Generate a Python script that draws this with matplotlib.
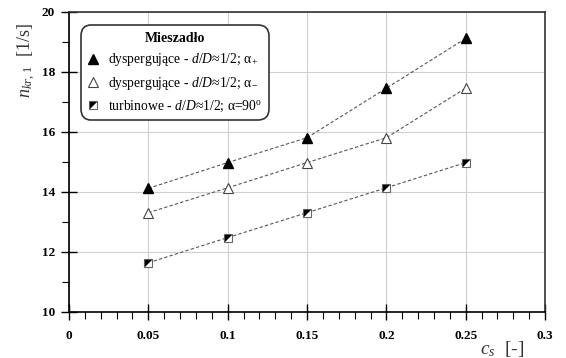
import matplotlib
matplotlib.use("Agg")
import matplotlib.pyplot as plt
from matplotlib.ticker import MultipleLocator, FixedLocator
from matplotlib.lines import Line2D
from matplotlib.legend_handler import HandlerTuple

plt.rcParams['font.family'] = ['Liberation Serif', 'DejaVu Serif']
plt.rcParams['mathtext.fontset'] = 'custom'
plt.rcParams['mathtext.rm'] = 'Liberation Serif'
plt.rcParams['mathtext.it'] = 'Liberation Serif:italic'
plt.rcParams['mathtext.bf'] = 'Liberation Serif:bold'

cs = [0.05, 0.10, 0.15, 0.20, 0.25]
disp_plus = [14.12, 14.98, 15.81, 17.46, 19.12]
disp_minus = [13.31, 14.14, 14.98, 15.81, 17.46]
turbine = [11.64, 12.48, 13.31, 14.14, 14.98]

labels = [
    r"dyspergujące - $d/D$≈1/2; α$_{+}$",
    r"dyspergujące - $d/D$≈1/2; α$_{-}$",
    r"turbinowe - $d/D$≈1/2; α=90$^{\rm o}$",
]
x_ticks = [0, 0.05, 0.1, 0.15, 0.2, 0.25, 0.3]
x_tick_labels = ["0", "0.05", "0.1", "0.15", "0.2", "0.25", "0.3"]
y_ticks = [10, 12, 14, 16, 18, 20]

fig = plt.figure(figsize=(5.66, 3.58), dpi=100)
ax = fig.add_axes([0.1219, 0.1285, 0.8411, 0.8380])

line_kw = dict(color='#555555', linestyle=(0, (3, 2)), linewidth=0.8)
ax.plot(cs, disp_plus, marker='^', markersize=6.5, markerfacecolor='black',
        markeredgecolor='black', label=labels[0], **line_kw)
ax.plot(cs, disp_minus, marker='^', markersize=6.5, markerfacecolor='white',
        markeredgecolor='#444444', markeredgewidth=0.8, label=labels[1], **line_kw)
ax.plot(cs, turbine, marker='s', markersize=6, markerfacecolor='white',
        markeredgecolor='#666666', markeredgewidth=0.8, label=labels[2], **line_kw)
tri = [(-1, -1), (-1, 1), (1, 1), (-1, -1)]
ax.plot(cs, turbine, linestyle='none', marker=tri, markersize=5.2,
        markerfacecolor='black', markeredgecolor='black', markeredgewidth=0)

ax.set_xlim(0, 0.3)
ax.set_ylim(10, 20)
ax.xaxis.set_major_locator(FixedLocator(x_ticks))
ax.set_xticklabels(x_tick_labels)
ax.xaxis.set_minor_locator(MultipleLocator(0.01))
ax.yaxis.set_major_locator(FixedLocator(y_ticks))
ax.yaxis.set_minor_locator(MultipleLocator(1))
ax.grid(True, which='major', color='#d0d0d0', linewidth=0.8)
ax.set_axisbelow(True)

for lab in ax.get_xticklabels() + ax.get_yticklabels():
    lab.set_fontweight('bold')
    lab.set_fontsize(9.5)
ax.tick_params(which='major', direction='inout', length=12, width=1.0, pad=4)
ax.tick_params(which='minor', direction='out', length=5, width=0.8)
ax.tick_params(axis='x', which='major', pad=7)

for s in ['left', 'bottom']:
    ax.spines[s].set_linewidth(1.2)
    ax.spines[s].set_color('black')
for s in ['top', 'right']:
    ax.spines[s].set_linewidth(1.2)
    ax.spines[s].set_color('#333333')

ax.text(-0.088, 0.965, r"$n_{kr,\,1}$  [1/s]", transform=ax.transAxes,
        rotation=90, ha='center', va='top', fontsize=13, color='#333333')
ax.text(0.957, -0.125, r"$c_s$  [-]", transform=ax.transAxes,
        ha='right', va='center', fontsize=14, color='#333333')

hsq = Line2D([], [], linestyle='none', marker='s', markersize=6,
             markerfacecolor='white', markeredgecolor='#666666', markeredgewidth=0.8)
htr = Line2D([], [], linestyle='none', marker=tri, markersize=5.2,
             markerfacecolor='black', markeredgewidth=0)
h1 = Line2D([], [], linestyle='none', marker='^', markersize=6.5,
            markerfacecolor='black', markeredgecolor='black')
h2 = Line2D([], [], linestyle='none', marker='^', markersize=6.5,
            markerfacecolor='white', markeredgecolor='#444444', markeredgewidth=0.8)
leg = ax.legend([h1, h2, (hsq, htr)], labels, title="Mieszadło",
                loc='upper left', bbox_to_anchor=(0.01, 0.978),
                fontsize=9.8, title_fontproperties={'weight': 'bold', 'size': 10},
                handler_map={tuple: HandlerTuple(ndivide=1)},
                handlelength=1.0, handletextpad=0.6, labelspacing=0.5,
                borderpad=0.45, frameon=True, fancybox=True, framealpha=1,
                edgecolor='#333333')
leg.get_frame().set_linewidth(1.2)
leg.get_frame().set_boxstyle('round', pad=0, rounding_size=0.8)

fig.savefig("out.png", dpi=100)
